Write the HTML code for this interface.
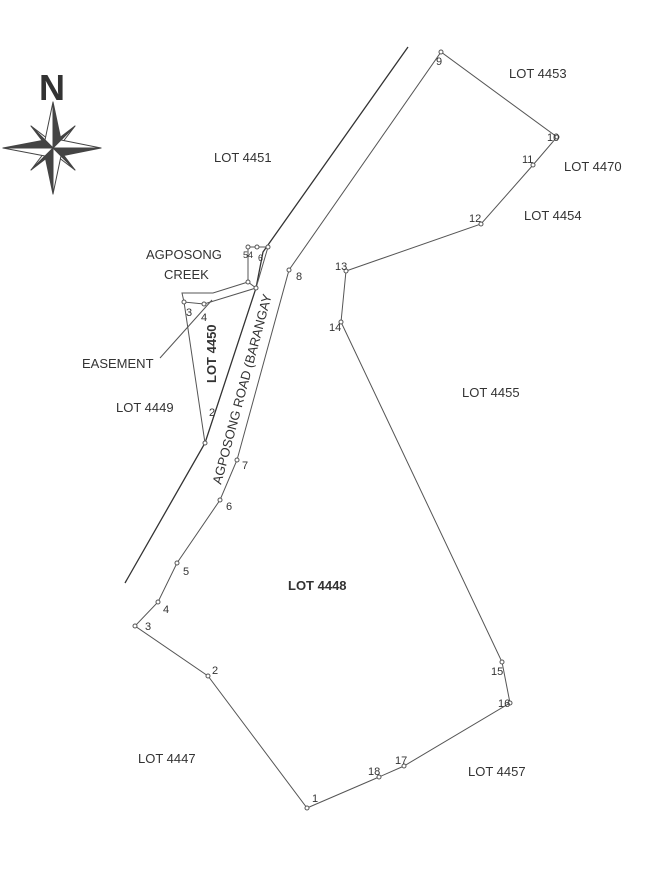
<!DOCTYPE html>
<html><head><meta charset="utf-8"><style>
html,body{margin:0;padding:0;background:#fff}
svg{display:block}
text{font-family:"Liberation Sans",sans-serif;fill:#333}
</style></head><body>
<svg width="666" height="873" viewBox="0 0 666 873" xmlns="http://www.w3.org/2000/svg">
<rect width="666" height="873" fill="#fff"/>
<text x="52" y="100" font-size="36" font-weight="bold" text-anchor="middle" fill="#444">N</text>
<g transform="translate(53,148)" stroke="#444" stroke-width="1" stroke-linejoin="round">
<polygon points="0,0 -22,-22 -5,-9" fill="#fff"/>
<polygon points="0,0 -22,-22 -9,-5" fill="#444"/>
<polygon points="0,0 22,-22 9,-5" fill="#fff"/>
<polygon points="0,0 22,-22 5,-9" fill="#444"/>
<polygon points="0,0 22,22 5,9" fill="#fff"/>
<polygon points="0,0 22,22 9,5" fill="#444"/>
<polygon points="0,0 -22,22 -9,5" fill="#fff"/>
<polygon points="0,0 -22,22 -5,9" fill="#444"/>
<polygon points="0,-46 8,-8 0,0" fill="#444"/>
<polygon points="0,-46 -8,-8 0,0" fill="#fff"/>
<polygon points="48,0 8,8 0,0" fill="#444"/>
<polygon points="48,0 8,-8 0,0" fill="#fff"/>
<polygon points="0,46 -8,8 0,0" fill="#444"/>
<polygon points="0,46 8,8 0,0" fill="#fff"/>
<polygon points="-50,0 -8,-8 0,0" fill="#444"/>
<polygon points="-50,0 -8,8 0,0" fill="#fff"/>
</g>
<g stroke="#555" stroke-width="1" fill="none">
<polyline points="408,47 263,252 256,288 205,443 125,583" stroke="#333" stroke-width="1.3"/>
<polygon points="307,808 379,777 404,766 510,703 502,662 341,322 346,271 481,224 533,165 557,137 441,52 289,270 237,460 220,500 177,563 158,602 135,626 208,676"/>
<polyline points="205,443 184,302 204,304 256,288 248,282 248,247 268,247 256,288"/>
<polyline points="184,302 182,293 213,293 248,282"/>
<line x1="212" y1="300" x2="160" y2="358"/>
</g>
<g fill="#fff" stroke="#555" stroke-width="1">
<circle cx="307" cy="808" r="2"/><circle cx="379" cy="777" r="2"/><circle cx="404" cy="766" r="2"/>
<circle cx="510" cy="703" r="2"/><circle cx="502" cy="662" r="2"/><circle cx="341" cy="322" r="2"/>
<circle cx="346" cy="271" r="2"/><circle cx="481" cy="224" r="2"/><circle cx="533" cy="165" r="2"/>
<circle cx="557" cy="137" r="2"/><circle cx="441" cy="52" r="2"/><circle cx="289" cy="270" r="2"/>
<circle cx="237" cy="460" r="2"/><circle cx="220" cy="500" r="2"/><circle cx="177" cy="563" r="2"/>
<circle cx="158" cy="602" r="2"/><circle cx="135" cy="626" r="2"/><circle cx="208" cy="676" r="2"/>
<circle cx="205" cy="443" r="2"/><circle cx="184" cy="302" r="2"/><circle cx="204" cy="304" r="2"/>
<circle cx="256" cy="288" r="2"/><circle cx="248" cy="282" r="2"/><circle cx="248" cy="247" r="2"/>
<circle cx="257" cy="247" r="2"/><circle cx="268" cy="247" r="2"/>
</g>
<g font-size="13">
<text x="509" y="78">LOT 4453</text>
<text x="214" y="162">LOT 4451</text>
<text x="564" y="171">LOT 4470</text>
<text x="524" y="220">LOT 4454</text>
<text x="462" y="397">LOT 4455</text>
<text x="116" y="412">LOT 4449</text>
<text x="288" y="590" font-weight="bold">LOT 4448</text>
<text x="138" y="763">LOT 4447</text>
<text x="468" y="776">LOT 4457</text>
<text x="146" y="259">AGPOSONG</text>
<text x="164" y="279">CREEK</text>
<text x="82" y="368">EASEMENT</text>
<text transform="translate(216,383) rotate(-90)" font-weight="bold">LOT 4450</text>
<text transform="translate(221,485) rotate(-75)">AGPOSONG ROAD (BARANGAY</text>
</g>
<g font-size="11">
<text x="436" y="65">9</text><text x="547" y="141">10</text><text x="522" y="163">11</text>
<text x="469" y="222">12</text><text x="335" y="270">13</text><text x="329" y="331">14</text>
<text x="296" y="280">8</text><text x="242" y="469">7</text><text x="226" y="510">6</text>
<text x="183" y="575">5</text><text x="163" y="613">4</text><text x="145" y="630">3</text>
<text x="212" y="674">2</text><text x="312" y="802">1</text><text x="368" y="775">18</text>
<text x="395" y="764">17</text><text x="498" y="707">16</text><text x="491" y="675">15</text>
<text x="209" y="416">2</text><text x="186" y="316">3</text><text x="201" y="321">4</text>
<text x="243" y="258" font-size="9">54</text><text x="258" y="261" font-size="9">6</text>
</g>
</svg>
</body></html>
